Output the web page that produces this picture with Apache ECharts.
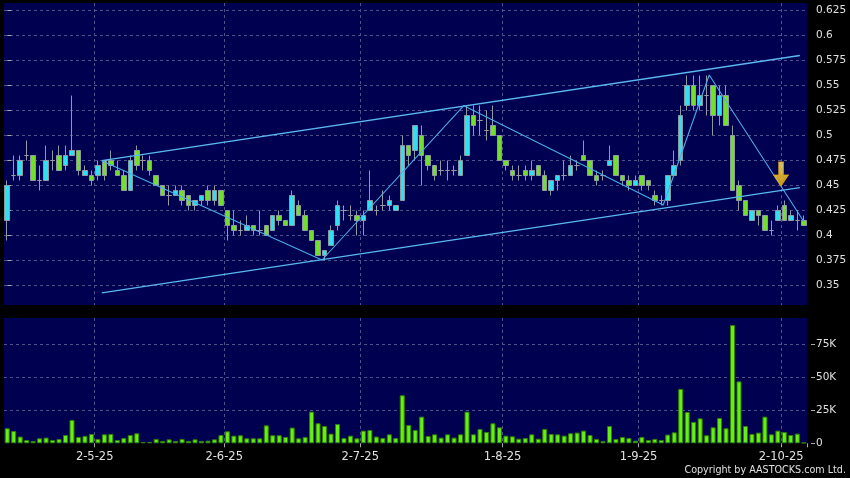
<!DOCTYPE html>
<html><head><meta charset="utf-8">
<script src="https://cdn.jsdelivr.net/npm/echarts@6/dist/echarts.min.js"></script>
<style>html,body{margin:0;padding:0;background:#000;}#c{width:850px;height:478px;}</style>
</head><body><div id="c"></div>
<script>
// Trading days (d-m-yy)
const categories = [
'10-4-25','11-4-25','14-4-25','15-4-25','16-4-25','17-4-25','22-4-25','23-4-25','24-4-25','25-4-25','28-4-25','29-4-25','30-4-25',
'2-5-25','6-5-25','7-5-25','8-5-25','9-5-25','12-5-25','13-5-25','14-5-25','15-5-25','16-5-25','19-5-25','20-5-25','21-5-25','22-5-25','23-5-25','26-5-25','27-5-25','28-5-25','29-5-25','30-5-25',
'2-6-25','3-6-25','4-6-25','5-6-25','6-6-25','9-6-25','10-6-25','11-6-25','12-6-25','13-6-25','16-6-25','17-6-25','18-6-25','19-6-25','20-6-25','23-6-25','24-6-25','25-6-25','26-6-25','27-6-25','30-6-25',
'2-7-25','3-7-25','4-7-25','7-7-25','8-7-25','9-7-25','10-7-25','11-7-25','14-7-25','15-7-25','16-7-25','17-7-25','18-7-25','21-7-25','22-7-25','23-7-25','24-7-25','25-7-25','28-7-25','29-7-25','30-7-25','31-7-25',
'1-8-25','4-8-25','5-8-25','6-8-25','7-8-25','8-8-25','11-8-25','12-8-25','13-8-25','14-8-25','15-8-25','18-8-25','19-8-25','20-8-25','21-8-25','22-8-25','25-8-25','26-8-25','27-8-25','28-8-25','29-8-25',
'1-9-25','2-9-25','3-9-25','4-9-25','5-9-25','8-9-25','9-9-25','10-9-25','11-9-25','12-9-25','15-9-25','16-9-25','17-9-25','18-9-25','19-9-25','22-9-25','23-9-25','24-9-25','25-9-25','26-9-25','29-9-25','30-9-25',
'2-10-25','3-10-25','6-10-25','8-10-25','9-10-25'
];
const tickLabels = ['2-5-25','2-6-25','2-7-25','1-8-25','1-9-25','2-10-25'];

const open = [
.415,.46,.46,.48,.48,.455,.455,.475,.48,.47,
.48,.485,.46,.46,.46,.475,.475,.465,.46,.445,
.485,.475,.475,.46,.45,.44,.44,.445,.44,.43,
.435,.445,.435,.445,.425,.41,.405,.405,.41,.405,
.41,.405,.42,.415,.41,.43,.42,.405,.395,.38,
.39,.41,.425,.42,.42,.415,.425,.425,.43,.43,
.425,.435,.49,.485,.50,.48,.47,.465,.465,.465,
.46,.48,.52,.515,.505,.51,.50,.475,.465,.46,
.465,.46,.47,.46,.445,.455,.46,.46,.47,.48,
.475,.46,.46,.47,.48,.46,.455,.45,.46,.455,
.44,.435,.435,.46,.475,.53,.55,.53,.54,.55,
.52,.54,.50,.45,.435,.415,.425,.42,.405,.415,
.43,.415,.415,.415];
const close = [
.45,.46,.475,.48,.455,.455,.475,.475,.465,.48,
.485,.465,.465,.455,.47,.46,.47,.46,.445,.475,
.47,.475,.465,.45,.44,.44,.445,.435,.43,.435,
.44,.435,.445,.43,.41,.405,.405,.41,.405,.405,
.40,.42,.415,.41,.44,.42,.405,.395,.38,.385,
.405,.43,.425,.42,.415,.42,.435,.425,.43,.435,
.43,.49,.48,.51,.48,.47,.46,.465,.465,.465,
.475,.52,.51,.515,.505,.50,.475,.47,.46,.46,
.46,.465,.46,.445,.455,.46,.46,.47,.47,.475,
.46,.455,.46,.475,.46,.455,.45,.455,.45,.45,
.435,.435,.46,.47,.52,.55,.53,.54,.54,.52,
.54,.51,.445,.435,.42,.425,.42,.405,.405,.425,
.415,.42,.415,.41];
const low = [
.395,.455,.455,.475,.455,.445,.455,.465,.465,.465,
.48,.46,.46,.45,.455,.455,.465,.46,.445,.445,
.465,.465,.46,.45,.44,.43,.44,.43,.425,.425,
.43,.43,.43,.43,.395,.40,.40,.405,.40,.40,
.40,.405,.41,.41,.41,.42,.405,.395,.38,.375,
.39,.405,.415,.415,.40,.40,.425,.42,.425,.425,
.425,.435,.47,.475,.45,.465,.455,.46,.455,.46,
.46,.48,.50,.50,.495,.50,.475,.465,.455,.455,
.455,.455,.46,.445,.44,.445,.455,.46,.465,.475,
.46,.45,.455,.47,.46,.45,.445,.45,.445,.445,
.43,.43,.43,.46,.47,.525,.525,.525,.52,.50,
.51,.51,.445,.425,.42,.415,.41,.405,.40,.415,
.415,.415,.405,.41];
const high = [
.455,.48,.48,.495,.48,.47,.49,.485,.49,.49,
.54,.485,.47,.465,.475,.475,.485,.475,.465,.48,
.49,.48,.48,.46,.45,.45,.45,.45,.44,.435,
.44,.45,.45,.445,.425,.425,.415,.42,.41,.425,
.41,.42,.425,.415,.445,.435,.425,.405,.395,.385,
.41,.435,.43,.43,.425,.425,.465,.43,.445,.44,
.43,.50,.49,.51,.51,.48,.47,.475,.475,.47,
.48,.53,.53,.53,.525,.53,.50,.475,.47,.47,
.47,.475,.47,.465,.455,.46,.475,.48,.475,.495,
.475,.465,.465,.49,.48,.46,.46,.46,.46,.455,
.445,.44,.46,.485,.53,.56,.56,.56,.56,.55,
.55,.55,.51,.455,.435,.425,.425,.42,.415,.43,
.435,.425,.425,.42];
// volume in thousands of shares
const volumeK = [
11.4,9.3,5.1,2.5,1.8,3.8,4.3,2.5,3.3,6.3,
17.7,4.8,5.6,7.1,3.3,6.8,7.1,2.5,4.0,6.3,
7.6,1.0,1.0,3.3,1.8,3.0,1.8,3.3,1.8,3.0,
1.8,2.0,3.0,6.3,9.1,5.8,6.1,3.8,3.8,3.8,
13.6,6.1,6.1,4.8,11.9,3.8,4.8,24.0,15.2,13.1,
7.3,14.6,4.0,5.8,3.8,9.6,10.1,5.1,4.0,6.8,
4.0,36.4,13.9,10.1,20.2,5.6,6.8,4.3,6.8,4.3,
6.8,24.0,6.8,10.9,8.6,15.2,12.1,5.8,5.3,3.5,
4.0,6.8,3.5,10.9,7.1,6.8,5.8,7.6,8.1,9.6,
6.3,3.3,1.8,13.1,3.3,4.8,4.0,2.0,4.8,2.5,
3.3,2.5,6.6,8.3,41.2,23.7,16.2,18.9,6.1,12.1,
19.2,11.4,89.6,46.9,13.1,7.1,8.1,20.2,6.8,9.6,
8.6,6.3,7.3,0.5];

// drawn trend lines: [bar index, price]
const channelUpper = [[14.6, 0.4748], [122.4, 0.580]];
const channelLower = [[14.6, 0.3426], [122.4, 0.4478]];
const zigzag = [[14.6, 0.4748], [48.6, 0.3755], [70.5, 0.5298], [101.3, 0.4305], [108.4, 0.5605], [123, 0.414]];
const signalArrow = [[119.5, 0.4495]];

const N = categories.length;
const labelIdx = tickLabels.map(t => categories.indexOf(t));
const gridIdx = labelIdx.map(i => i + 1);
const candles = open.map((o, i) => [o, close[i], low[i], high[i]]);

const gridColor = '#50508c';
const font = 'DejaVu Sans';
const splitLineX = {show: true, showMaxLine: false, interval: (i) => gridIdx.includes(i),
  lineStyle: {color: gridColor, type: [3, 3], width: 1}};
const splitLineY = {show: true, showMinLine: false, showMaxLine: false,
  lineStyle: {color: gridColor, type: [3, 3], width: 1}};

const chart = echarts.init(document.getElementById('c'), null, {renderer: 'canvas'});
chart.setOption({
  animation: false,
  backgroundColor: '#000',
  grid: [
    {left: 4, right: 43, top: 3, height: 302, show: true, backgroundColor: '#000050', borderWidth: 0},
    {left: 4, right: 43, top: 318, height: 125.3, show: true, backgroundColor: '#000050', borderWidth: 0}
  ],
  xAxis: [
    {type: 'category', gridIndex: 0, data: categories, boundaryGap: true,
     axisLine: {show: false}, axisTick: {show: false}, axisLabel: {show: false}, splitLine: splitLineX},
    {type: 'category', gridIndex: 1, data: categories, boundaryGap: true,
     axisLine: {show: false},
     axisTick: {show: true, interval: (i) => gridIdx.includes(i), length: 4, lineStyle: {color: '#aaa'}},
     axisLabel: {show: true, interval: (i) => labelIdx.includes(i), color: '#e0e0e0', fontSize: 11.5,
       fontFamily: font, margin: 8, padding: [0, 0, 0, 6.5]},
     splitLine: splitLineX},
    {type: 'value', gridIndex: 0, min: -0.5, max: N - 0.5, show: false}
  ],
  yAxis: [
    {type: 'value', gridIndex: 0, position: 'right', offset: 4, min: 0.3305, max: 0.6325,
     minInterval: 0.025, maxInterval: 0.025,
     axisLine: {show: false}, axisTick: {show: true, length: 4, lineStyle: {color: '#aaa'}},
     axisLabel: {color: '#e0e0e0', fontSize: 10.5, fontFamily: font, margin: 5,
       showMinLabel: false, showMaxLabel: false, formatter: v => String(Math.round(v * 1000) / 1000)},
     splitLine: splitLineY},
    {type: 'value', gridIndex: 1, position: 'right', offset: 4, min: 0, max: 94.9,
     minInterval: 25, maxInterval: 25,
     axisLine: {show: false}, axisTick: {show: true, length: 4, lineStyle: {color: '#aaa'}},
     axisLabel: {color: '#e0e0e0', fontSize: 10.5, fontFamily: font, margin: 5,
       showMaxLabel: false, formatter: v => v === 0 ? '0' : v + 'K'},
     splitLine: splitLineY}
  ],
  series: [
    {type: 'candlestick', xAxisIndex: 0, yAxisIndex: 0, data: candles, barWidth: 5, silent: true,
     itemStyle: {color: '#30e0f0', color0: '#72e02a', borderColor: '#8d9aa2', borderColor0: '#8d9aa2',
       borderColorDoji: '#9a9aa4', borderWidth: 1}},
    {type: 'bar', xAxisIndex: 1, yAxisIndex: 1, data: volumeK, barWidth: 5, silent: true,
     itemStyle: {color: '#66f010', borderColor: '#2f8000', borderWidth: 1}},
    {type: 'line', xAxisIndex: 2, yAxisIndex: 0, data: channelUpper, symbol: 'none', silent: true, z: 5,
     lineStyle: {color: '#5ab8f0', width: 1.3}},
    {type: 'line', xAxisIndex: 2, yAxisIndex: 0, data: channelLower, symbol: 'none', silent: true, z: 5,
     lineStyle: {color: '#5ab8f0', width: 1.3}},
    {type: 'line', xAxisIndex: 2, yAxisIndex: 0, data: zigzag, symbol: 'none', silent: true, z: 5,
     lineStyle: {color: '#4aace8', width: 1.1}},
    {type: 'scatter', xAxisIndex: 2, yAxisIndex: 0, data: signalArrow, silent: true, z: 6,
     symbol: 'path://M5,0 L10,0 L10,13 L15,13 L7.5,24 L0,13 L5,13 Z', symbolSize: [15, 24],
     symbolOffset: [0, '-50%'],
     itemStyle: {color: new echarts.graphic.LinearGradient(0, 0, 0, 1, [
       {offset: 0, color: '#fff27a'}, {offset: 0.6, color: '#ffd028'}, {offset: 1, color: '#ffb000'}]),
       borderColor: '#f0a000', borderWidth: 0.8}}
  ],
  graphic: [{type: 'text', right: 4, top: 465,
    style: {text: 'Copyright by AASTOCKS.com Ltd.', fill: '#e0e0e0', font: '9.6px "DejaVu Sans"'}}]
});
</script>
</body></html>
